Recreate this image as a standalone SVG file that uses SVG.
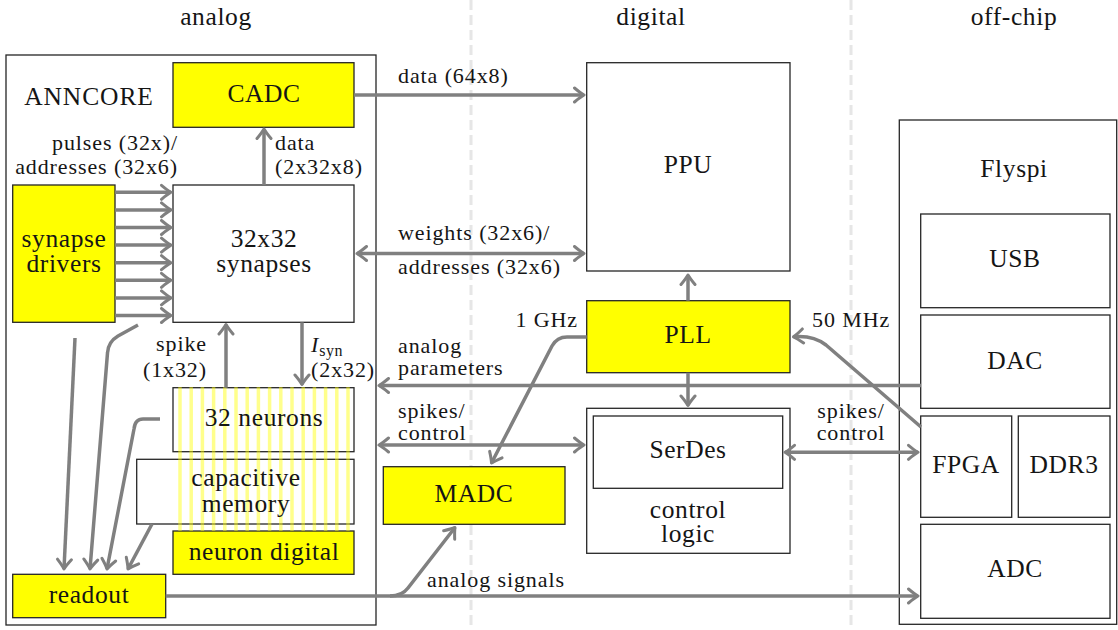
<svg xmlns="http://www.w3.org/2000/svg" width="1118" height="630" viewBox="0 0 1118 630" font-family="Liberation Serif, serif">
  <style>
    .box { fill: #ffffff; stroke: #262626; stroke-width: 1.3; }
    .ybox { fill: #ffff00; stroke: #262626; stroke-width: 1.3; }
    .frame { fill: none; stroke: #262626; stroke-width: 1.3; }
    .sep { stroke: #e6e6e6; stroke-width: 3; stroke-dasharray: 10 5; fill: none; }
    .stripe { stroke: #ffff00; stroke-opacity: 0.45; stroke-width: 3.5; }
    .wire { fill: none; stroke: #808080; stroke-width: 3.5; stroke-linejoin: round; }
    .arr { marker-end: url(#tip); }
    .dbl { marker-start: url(#tip); marker-end: url(#tip); }
    text { fill: #151515; }
    .lg { font-size: 25.5px; letter-spacing: 0.6px; text-anchor: middle; }
    .sm { font-size: 22px; letter-spacing: 0.9px; }
    .end { text-anchor: end; }
    .mid { text-anchor: middle; }
  </style>
  <defs>
    <marker id="tip" viewBox="-13 -9 16 18" refX="0" refY="0" markerWidth="16" markerHeight="18" markerUnits="userSpaceOnUse" orient="auto-start-reverse">
      <path d="M -9.5 -7 Q -3.5 -2 0 0 Q -3.5 2 -9.5 7" fill="none" stroke="#808080" stroke-width="3" stroke-linecap="round" stroke-linejoin="round"/>
    </marker>
  </defs>

  <rect width="1118" height="630" fill="#ffffff"/>

  <!-- domain separators and headings -->
  <g id="domains">
    <line class="sep" x1="471" y1="0" x2="471" y2="630"/>
    <line class="sep" x1="851" y1="0" x2="851" y2="630"/>
    <text class="lg" style="font-family:'Liberation Serif',serif" x="216" y="25">analog</text>
    <text class="lg" style="font-family:'Liberation Serif',serif" x="651" y="25">digital</text>
    <text class="lg" style="font-family:'Liberation Serif',serif" x="1014" y="25">off-chip</text>
  </g>

  <!-- ANNCORE container -->
  <g id="anncore">
    <rect class="frame" x="6" y="55" width="370" height="570"/>
    <text class="lg" style="font-family:'Liberation Serif',serif;letter-spacing:0.9px" x="89" y="105">ANNCORE</text>
  </g>

  <g id="cadc">
    <rect class="ybox" x="173" y="62.7" width="181" height="64.6"/>
    <text class="lg" style="font-family:'Liberation Serif',serif" x="264" y="102">CADC</text>
  </g>

  <g id="synapse-drivers">
    <rect class="ybox" x="12.7" y="185" width="102.3" height="137.3"/>
    <text class="lg" style="font-family:'Liberation Serif',serif" x="64" y="246.7">synapse</text>
    <text class="lg" style="font-family:'Liberation Serif',serif" x="64" y="271.7">drivers</text>
  </g>

  <g id="synapses">
    <rect class="box" x="173" y="185" width="181" height="137.3"/>
    <text class="lg" style="font-family:'Liberation Serif',serif" x="264" y="246.7">32x32</text>
    <text class="lg" style="font-family:'Liberation Serif',serif" x="264" y="271.7">synapses</text>
  </g>

  <g id="neurons">
    <rect class="box" x="173" y="387.7" width="181" height="64"/>
  </g>
  <g id="capacitive-memory">
    <rect class="box" x="136.7" y="459.3" width="217.3" height="64.7"/>
  </g>
  <g id="neuron-digital">
    <rect class="ybox" x="173" y="531" width="181" height="43.3"/>
  </g>

  <!-- per-neuron columns running through neurons, memory and digital part -->
  <g id="neuron-columns">
    <line class="stripe" x1="180" y1="387" x2="180" y2="531"/>
    <line class="stripe" x1="191.2" y1="387" x2="191.2" y2="531"/>
    <line class="stripe" x1="202.4" y1="387" x2="202.4" y2="531"/>
    <line class="stripe" x1="213.6" y1="387" x2="213.6" y2="531"/>
    <line class="stripe" x1="224.8" y1="387" x2="224.8" y2="531"/>
    <line class="stripe" x1="236" y1="387" x2="236" y2="531"/>
    <line class="stripe" x1="247.2" y1="387" x2="247.2" y2="531"/>
    <line class="stripe" x1="258.4" y1="387" x2="258.4" y2="531"/>
    <line class="stripe" x1="269.6" y1="387" x2="269.6" y2="531"/>
    <line class="stripe" x1="280.8" y1="387" x2="280.8" y2="531"/>
    <line class="stripe" x1="292" y1="387" x2="292" y2="531"/>
    <line class="stripe" x1="303.2" y1="387" x2="303.2" y2="531"/>
    <line class="stripe" x1="314.4" y1="387" x2="314.4" y2="531"/>
    <line class="stripe" x1="325.6" y1="387" x2="325.6" y2="531"/>
    <line class="stripe" x1="336.8" y1="387" x2="336.8" y2="531"/>
    <line class="stripe" x1="348" y1="387" x2="348" y2="531"/>
  </g>

  <g id="neuron-labels">
    <text class="lg" style="font-family:'Liberation Serif',serif" x="264" y="426">32 neurons</text>
    <text class="lg" style="font-family:'Liberation Serif',serif" x="246" y="485.7">capacitive</text>
    <text class="lg" style="font-family:'Liberation Serif',serif" x="246" y="511.5">memory</text>
    <text class="lg" style="font-family:'Liberation Serif',serif" x="264" y="560">neuron digital</text>
  </g>

  <g id="readout">
    <rect class="ybox" x="12.7" y="574.3" width="153" height="43.4"/>
    <text class="lg" style="font-family:'Liberation Serif',serif" x="89" y="603">readout</text>
  </g>

  <!-- digital part -->
  <g id="ppu">
    <rect class="box" x="586.7" y="62.7" width="203.3" height="208.3"/>
    <text class="lg" style="font-family:'Liberation Serif',serif" x="688" y="173.3">PPU</text>
  </g>
  <g id="pll">
    <rect class="ybox" x="586.7" y="300.7" width="203.3" height="72"/>
    <text class="lg" style="font-family:'Liberation Serif',serif" x="688" y="343.3">PLL</text>
  </g>
  <g id="control-logic">
    <rect class="box" x="586.7" y="408.3" width="203.3" height="145"/>
    <text class="lg" style="font-family:'Liberation Serif',serif" x="688" y="517.5">control</text>
    <text class="lg" style="font-family:'Liberation Serif',serif" x="688" y="542">logic</text>
  </g>
  <g id="serdes">
    <rect class="box" x="593.3" y="416" width="189.4" height="72.3"/>
    <text class="lg" style="font-family:'Liberation Serif',serif" x="688" y="458.3">SerDes</text>
  </g>
  <g id="madc">
    <rect class="ybox" x="383.3" y="466.7" width="181.7" height="57.6"/>
    <text class="lg" style="font-family:'Liberation Serif',serif" x="474" y="502.3">MADC</text>
  </g>

  <!-- off-chip board -->
  <g id="flyspi">
    <rect class="frame" x="899.3" y="120" width="217.4" height="504.3"/>
    <text class="lg" style="font-family:'Liberation Serif',serif" x="1014" y="176.7">Flyspi</text>
  </g>
  <g id="usb">
    <rect class="box" x="920.7" y="214" width="189.3" height="93.7"/>
    <text class="lg" style="font-family:'Liberation Serif',serif" x="1015" y="266.7">USB</text>
  </g>
  <g id="dac">
    <rect class="box" x="920.7" y="315" width="189.3" height="93.3"/>
    <text class="lg" style="font-family:'Liberation Serif',serif" x="1015" y="369">DAC</text>
  </g>
  <g id="fpga">
    <rect class="box" x="920.7" y="416" width="91" height="101.3"/>
    <text class="lg" style="font-family:'Liberation Serif',serif" x="966" y="473.3">FPGA</text>
  </g>
  <g id="ddr3">
    <rect class="box" x="1018.3" y="416" width="91.7" height="101.3"/>
    <text class="lg" style="font-family:'Liberation Serif',serif" x="1064" y="473.3">DDR3</text>
  </g>
  <g id="adc">
    <rect class="box" x="920.7" y="524.3" width="189.3" height="94"/>
    <text class="lg" style="font-family:'Liberation Serif',serif" x="1015" y="577.3">ADC</text>
  </g>

  <!-- connectors -->
  <g id="connectors">
    <!-- synapse driver rows -->
    <path class="wire arr" d="M115 192.3 H171"/>
    <path class="wire arr" d="M115 209.9 H171"/>
    <path class="wire arr" d="M115 227.5 H171"/>
    <path class="wire arr" d="M115 245.1 H171"/>
    <path class="wire arr" d="M115 262.7 H171"/>
    <path class="wire arr" d="M115 280.3 H171"/>
    <path class="wire arr" d="M115 297.9 H171"/>
    <path class="wire arr" d="M115 315.5 H171"/>

    <path class="wire arr" d="M264 185 V129"/>
    <path class="wire arr" d="M226 387.7 V324.5"/>
    <path class="wire arr" d="M302 322.3 V384.5"/>

    <!-- readout taps -->
    <path class="wire arr" d="M75 338 L64 569"/>
    <path class="wire arr" d="M138 325 L118 336 Q108 342 107.5 353 L90 569"/>
    <path class="wire arr" d="M160 419 L143 419 Q135 419 134 429 L107 569"/>
    <path class="wire arr" d="M152 524 L128 569"/>

    <!-- core to digital -->
    <path class="wire arr" d="M354 95 H584"/>
    <path class="wire dbl" d="M357 253.5 H584"/>
    <path class="wire dbl" d="M379 445 H584"/>
    <path class="wire arr" d="M921 385.5 H379"/>

    <!-- clocking -->
    <path class="wire arr" d="M688 300.7 V275"/>
    <path class="wire arr" d="M688 372.7 V405.5"/>
    <path class="wire arr" d="M586.7 337 L567 337 Q557 337 552 346 L491.5 463"/>
    <path class="wire arr" d="M921 427 L826 345 Q813 335 793.5 336.8"/>

    <!-- off-chip links -->
    <path class="wire dbl" d="M785 452.3 H918"/>
    <path class="wire arr" d="M165.7 596 H918"/>
    <path class="wire arr" d="M390 596 Q402 596 408 588 L455 527.5"/>
  </g>

  <!-- connector labels -->
  <g id="connector-labels">
    <text class="sm end" style="font-family:'Liberation Serif',serif" x="178" y="150">pulses (32x)/</text>
    <text class="sm end" style="font-family:'Liberation Serif',serif" x="178" y="174">addresses (32x6)</text>
    <text class="sm" style="font-family:'Liberation Serif',serif" x="275" y="150">data</text>
    <text class="sm" style="font-family:'Liberation Serif',serif" x="275" y="174">(2x32x8)</text>
    <text class="sm end" style="font-family:'Liberation Serif',serif" x="207" y="351">spike</text>
    <text class="sm end" style="font-family:'Liberation Serif',serif" x="207" y="377">(1x32)</text>
    <text class="sm" style="font-family:'Liberation Serif',serif" x="311" y="352"><tspan font-style="italic">I</tspan><tspan font-size="16" dy="4" letter-spacing="0.5">syn</tspan></text>
    <text class="sm" style="font-family:'Liberation Serif',serif" x="311" y="377">(2x32)</text>
    <text class="sm" style="font-family:'Liberation Serif',serif" x="398" y="83.3">data (64x8)</text>
    <text class="sm" style="font-family:'Liberation Serif',serif" x="398" y="240">weights (32x6)/</text>
    <text class="sm" style="font-family:'Liberation Serif',serif" x="398" y="274">addresses (32x6)</text>
    <text class="sm end" style="font-family:'Liberation Serif',serif" x="578" y="327.3">1 GHz</text>
    <text class="sm" style="font-family:'Liberation Serif',serif" x="398" y="353">analog</text>
    <text class="sm" style="font-family:'Liberation Serif',serif" x="398" y="375">parameters</text>
    <text class="sm" style="font-family:'Liberation Serif',serif" x="398" y="418">spikes/</text>
    <text class="sm" style="font-family:'Liberation Serif',serif" x="398" y="440">control</text>
    <text class="sm" style="font-family:'Liberation Serif',serif" x="427" y="587">analog signals</text>
    <text class="sm" style="font-family:'Liberation Serif',serif" x="812" y="327.3">50 MHz</text>
    <text class="sm mid" style="font-family:'Liberation Serif',serif" x="851" y="418">spikes/</text>
    <text class="sm mid" style="font-family:'Liberation Serif',serif" x="851" y="440">control</text>
  </g>
</svg>
